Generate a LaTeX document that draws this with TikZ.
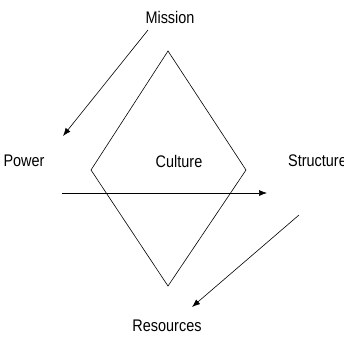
\documentclass[tikz,border=0pt]{standalone}
\usepackage{fontspec}
\setmainfont[FakeStretch=0.86]{Liberation Sans}
\usetikzlibrary{arrows.meta}
\begin{document}
\begin{tikzpicture}[x=1pt, y=-1pt,
  label/.style={inner sep=0pt, font=\fontsize{16.8}{20}\selectfont},
  flow/.style={line width=0.6pt, -{Latex[length=8pt, width=6pt]}}]
\useasboundingbox (0,0) rectangle (344,341);
\node[label] (mission) at (170,17) {Mission};
\node[label] (power) at (24,161) {Power};
\node[label] (culture) at (179,161) {Culture};
\node[label, anchor=west] (structure) at (288,161) {Structure};
\node[label] (resources) at (167,326) {Resources};
\draw[line width=0.6pt] (168,51) -- (246,170) -- (168,286) -- (91,170) -- cycle;
\coordinate (m1) at (148,30);
\coordinate (p1) at (63,136);
\coordinate (p2) at (62,193);
\coordinate (s1) at (267,193);
\coordinate (s2) at (299,215);
\coordinate (r1) at (192,307);
\draw[flow] (m1) -- (p1);
\draw[flow] (p2) -- (s1);
\draw[flow] (s2) -- (r1);
\end{tikzpicture}
\end{document}
